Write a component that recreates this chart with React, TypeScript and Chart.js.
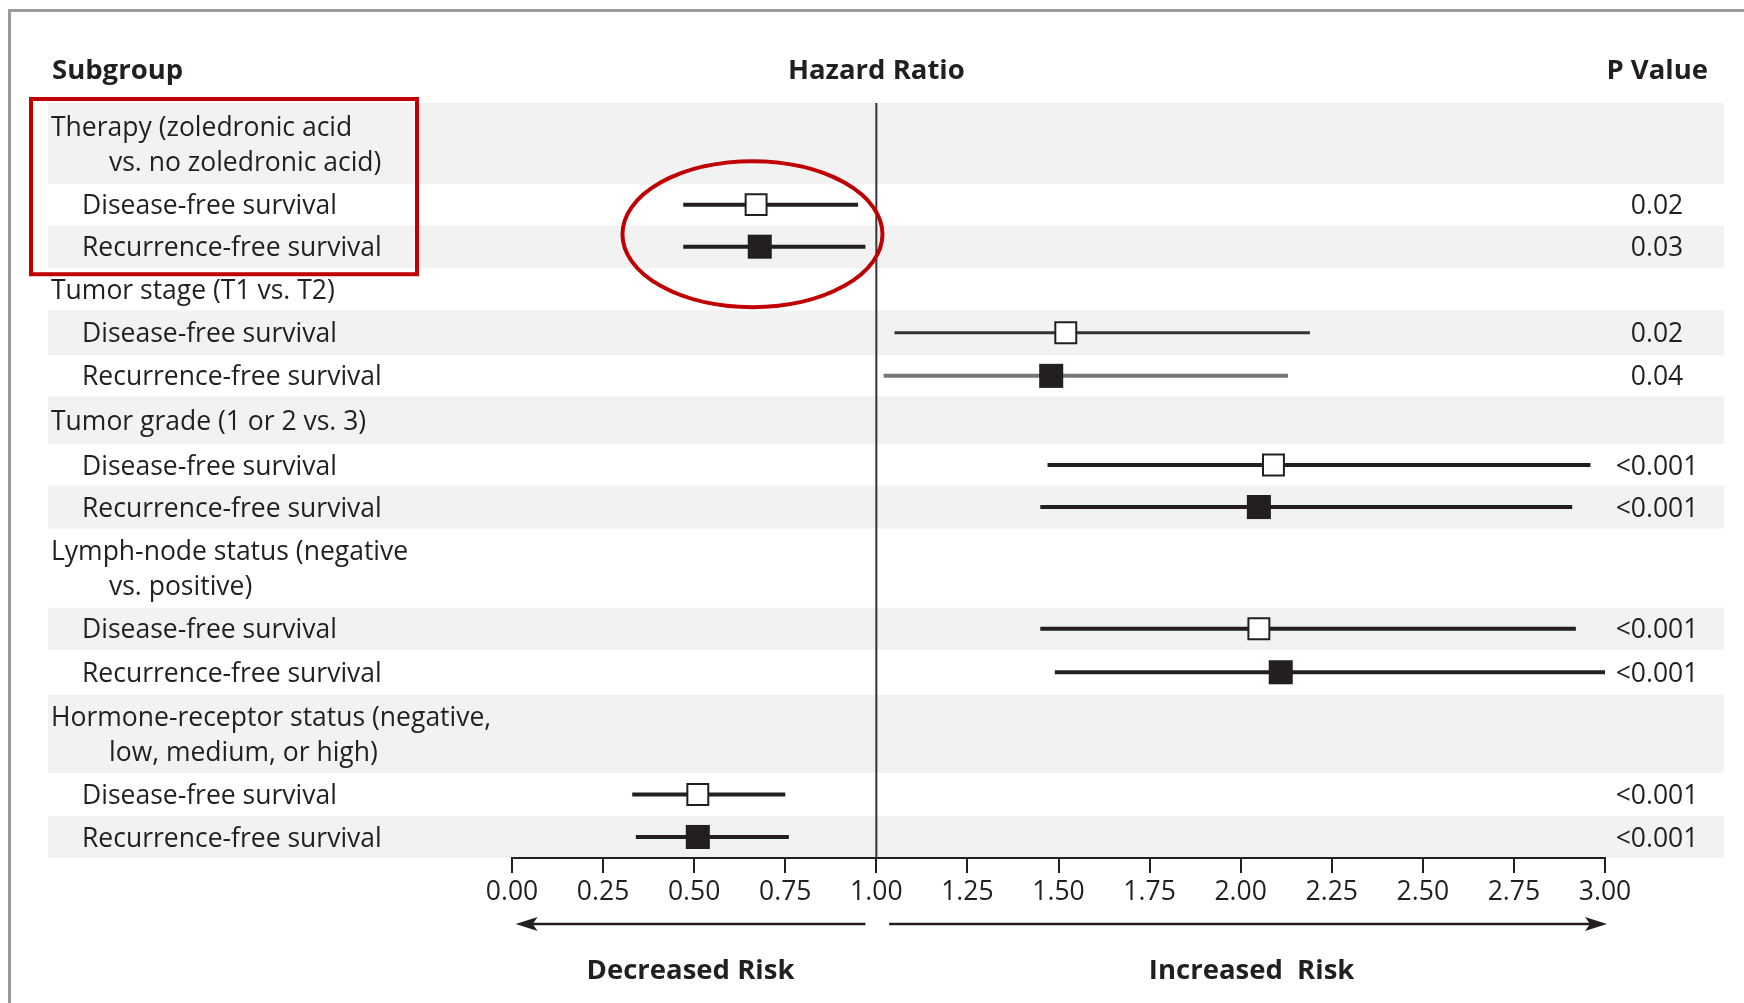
import React, { useEffect, useRef } from 'react';
import { Chart, registerables } from 'chart.js';

Chart.register(...registerables);

// ---------- data ----------
const rowLabels: string[][] = [
  ['Therapy (zoledronic acid', 'vs. no zoledronic acid)'],
  ['Disease-free survival'],
  ['Recurrence-free survival'],
  ['Tumor stage (T1 vs. T2)'],
  ['Disease-free survival'],
  ['Recurrence-free survival'],
  ['Tumor grade (1 or 2 vs. 3)'],
  ['Disease-free survival'],
  ['Recurrence-free survival'],
  ['Lymph-node status (negative', 'vs. positive)'],
  ['Disease-free survival'],
  ['Recurrence-free survival'],
  ['Hormone-receptor status (negative,', 'low, medium, or high)'],
  ['Disease-free survival'],
  ['Recurrence-free survival'],
];
const rowIsGroup = [true, false, false, true, false, false, true, false, false, true, false, false, true, false, false];

// estimates (one per sub-row)
const estimateRow = [1, 2, 4, 5, 7, 8, 10, 11, 13, 14];
const endpoint = ['DFS', 'RFS', 'DFS', 'RFS', 'DFS', 'RFS', 'DFS', 'RFS', 'DFS', 'RFS'];
const hazardRatio = [0.67, 0.68, 1.52, 1.48, 2.09, 2.05, 2.05, 2.11, 0.51, 0.51];
const ciLower = [0.47, 0.47, 1.05, 1.02, 1.47, 1.45, 1.45, 1.49, 0.33, 0.34];
const ciUpper = [0.95, 0.97, 2.19, 2.13, 2.96, 2.91, 2.92, 3.0, 0.75, 0.76];
const pValues = ['0.02', '0.03', '0.02', '0.04', '<0.001', '<0.001', '<0.001', '<0.001', '<0.001', '<0.001'];

const xMin = 0;
const xMax = 3;
const xStep = 0.25;

// ---------- layout ----------
const rowHeights = [81, 41, 43, 42, 45, 41, 48, 41, 43, 79, 42, 45, 78, 43, 42];
const totalHeight = rowHeights.reduce((a, b) => a + b, 0);
const rowTops: number[] = [];
rowHeights.reduce((acc, h) => {
  rowTops.push(acc);
  return acc + h;
}, 0);
const rowCenter = (i: number) => rowTops[i] + rowHeights[i] / 2;

const FONT = '"Open Sans", "Liberation Sans", sans-serif';
const INK = '#231f20';
const FS = 26.5;
const FSB = 27.5;
const TY = 2; // text baseline nudge

const ciStyle = (i: number) => {
  if (i === 2) return { color: '#333333', width: 3 };
  if (i === 3) return { color: '#777777', width: 4 };
  return { color: INK, width: 4 };
};

const forestPlugin = {
  id: 'forest',
  beforeDraw(chart: any) {
    const { ctx, width, height, scales } = chart;
    const y = scales.y;
    ctx.save();
    ctx.fillStyle = '#ffffff';
    ctx.fillRect(0, 0, width, height);
    // bands
    rowHeights.forEach((h, i) => {
      if (i % 2 === 0) {
        const t = y.getPixelForValue(rowTops[i]);
        const b = y.getPixelForValue(rowTops[i] + h);
        ctx.fillStyle = '#f2f2f2';
        ctx.fillRect(48, t, 1724 - 48, b - t);
      }
    });
    // frame
    ctx.strokeStyle = '#9a9a9a';
    ctx.lineWidth = 3;
    ctx.beginPath();
    ctx.moveTo(9.5, height);
    ctx.lineTo(9.5, 10.5);
    ctx.lineTo(width, 10.5);
    ctx.stroke();
    ctx.restore();
  },
  beforeDatasetsDraw(chart: any) {
    const { ctx, chartArea, scales } = chart;
    const x = scales.x;
    const y = scales.y;
    ctx.save();
    // reference line at HR = 1
    const x1 = x.getPixelForValue(1);
    ctx.strokeStyle = '#333333';
    ctx.lineWidth = 2;
    ctx.beginPath();
    ctx.moveTo(x1, chartArea.top);
    ctx.lineTo(x1, chartArea.bottom);
    ctx.stroke();
    // CI lines
    hazardRatio.forEach((_, i) => {
      const st = ciStyle(i);
      const yy = y.getPixelForValue(rowCenter(estimateRow[i]));
      ctx.strokeStyle = st.color;
      ctx.lineWidth = st.width;
      ctx.lineCap = 'butt';
      ctx.beginPath();
      ctx.moveTo(x.getPixelForValue(ciLower[i]), yy);
      ctx.lineTo(x.getPixelForValue(ciUpper[i]), yy);
      ctx.stroke();
    });
    ctx.restore();
  },
  afterDraw(chart: any) {
    const { ctx, scales } = chart;
    const x = scales.x;
    const y = scales.y;
    ctx.save();
    ctx.fillStyle = INK;
    ctx.textBaseline = 'middle';

    // headers
    ctx.font = `bold ${FSB}px ${FONT}`;
    ctx.textAlign = 'left';
    ctx.fillText('Subgroup', 52, 69 + TY);
    ctx.textAlign = 'center';
    ctx.fillText('Hazard Ratio', x.getPixelForValue(1), 69 + TY);
    ctx.textAlign = 'right';
    ctx.fillText('P Value', 1708, 69 + TY);

    // row labels
    ctx.font = `${FS}px ${FONT}`;
    ctx.textAlign = 'left';
    rowLabels.forEach((lines, i) => {
      const cy = y.getPixelForValue(rowCenter(i)) + TY;
      if (rowIsGroup[i]) {
        if (lines.length === 1) {
          ctx.fillText(lines[0], 51, cy);
        } else {
          ctx.fillText(lines[0], 51, cy - 17.5);
          ctx.fillText(lines[1], 109, cy + 17.5);
        }
      } else {
        ctx.fillText(lines[0], 82, cy);
      }
    });

    // p values
    ctx.textAlign = 'center';
    pValues.forEach((p, i) => {
      const cy = y.getPixelForValue(rowCenter(estimateRow[i])) + TY;
      ctx.fillText(p, 1657, cy);
    });

    // arrows
    const ay = 924;
    const drawArrow = (from: number, to: number) => {
      const dir = Math.sign(to - from);
      ctx.strokeStyle = INK;
      ctx.lineWidth = 2.5;
      ctx.beginPath();
      ctx.moveTo(from, ay);
      ctx.lineTo(to - dir * 14, ay);
      ctx.stroke();
      ctx.beginPath();
      ctx.moveTo(to, ay);
      ctx.lineTo(to - dir * 22, ay - 7);
      ctx.lineTo(to - dir * 17, ay);
      ctx.lineTo(to - dir * 22, ay + 7);
      ctx.closePath();
      ctx.fill();
    };
    drawArrow(x.getPixelForValue(0.97), x.getPixelForValue(0.01));
    drawArrow(x.getPixelForValue(1.035), x.getPixelForValue(3.0) + 2);

    ctx.font = `bold ${FSB}px ${FONT}`;
    ctx.textAlign = 'center';
    ctx.fillText('Decreased Risk', x.getPixelForValue(0.49), 969 + TY);
    ctx.fillText('Increased  Risk', x.getPixelForValue(2.03), 969 + TY);

    // red highlight annotations
    ctx.strokeStyle = '#c00000';
    ctx.lineWidth = 4;
    const rt = y.getPixelForValue(rowTops[0]) - 4;
    const rb = y.getPixelForValue(rowTops[2] + rowHeights[2]) + 6;
    ctx.strokeRect(31, rt, 417 - 31, rb - rt);
    ctx.beginPath();
    ctx.ellipse(
      x.getPixelForValue(0.66),
      y.getPixelForValue(rowTops[2]) + 9,
      130,
      73,
      0,
      0,
      Math.PI * 2
    );
    ctx.stroke();
    ctx.restore();
  },
};

export default function App() {
  const canvasRef = useRef<HTMLCanvasElement | null>(null);

  useEffect(() => {
    document.body.style.margin = '0';
    document.body.style.overflow = 'hidden';
    const canvas = canvasRef.current;
    if (!canvas) return;

    const points = hazardRatio.map((hr, i) => ({ x: hr, y: rowCenter(estimateRow[i]), e: endpoint[i] }));
    const dfsData = points.filter((d) => d.e === 'DFS').map(({ x, y }) => ({ x, y }));
    const rfsData = points.filter((d) => d.e === 'RFS').map(({ x, y }) => ({ x, y }));

    const chart = new Chart(canvas, {
      type: 'scatter',
      data: {
        datasets: [
          {
            label: 'Disease-free survival',
            data: dfsData,
            pointStyle: 'rect',
            pointRadius: 14.8,
            backgroundColor: '#ffffff',
            borderColor: INK,
            borderWidth: 2,
            clip: false as any,
          },
          {
            label: 'Recurrence-free survival',
            data: rfsData,
            pointStyle: 'rect',
            pointRadius: 17,
            backgroundColor: INK,
            borderColor: INK,
            borderWidth: 0,
            clip: false as any,
          },
        ],
      },
      options: {
        animation: false,
        responsive: false,
        maintainAspectRatio: false,
        events: [],
        layout: { padding: { left: 512, right: 139, top: 103, bottom: 0 } },
        plugins: {
          legend: { display: false },
          tooltip: { enabled: false },
        },
        scales: {
          x: {
            type: 'linear',
            position: 'bottom',
            min: xMin,
            max: xMax,
            afterFit: (scale: any) => {
              scale.height = 145;
            },
            ticks: {
              stepSize: xStep,
              autoSkip: false,
              maxRotation: 0,
              padding: 4,
              color: INK,
              font: { family: FONT, size: FS },
              callback: (v: any) => Number(v).toFixed(2),
            },
            grid: {
              display: true,
              drawOnChartArea: false,
              drawTicks: true,
              tickLength: 15,
              color: INK,
              lineWidth: 2,
            },
            border: { display: true, color: INK, width: 2 },
          },
          y: {
            type: 'linear',
            display: false,
            min: 0,
            max: totalHeight,
            reverse: true,
          },
        },
      },
      plugins: [forestPlugin],
    });
    return () => chart.destroy();
  }, []);

  return (
    <div style={{ width: 1744, height: 1003 }}>
      <canvas ref={canvasRef} width={1744} height={1003} />
    </div>
  );
}
